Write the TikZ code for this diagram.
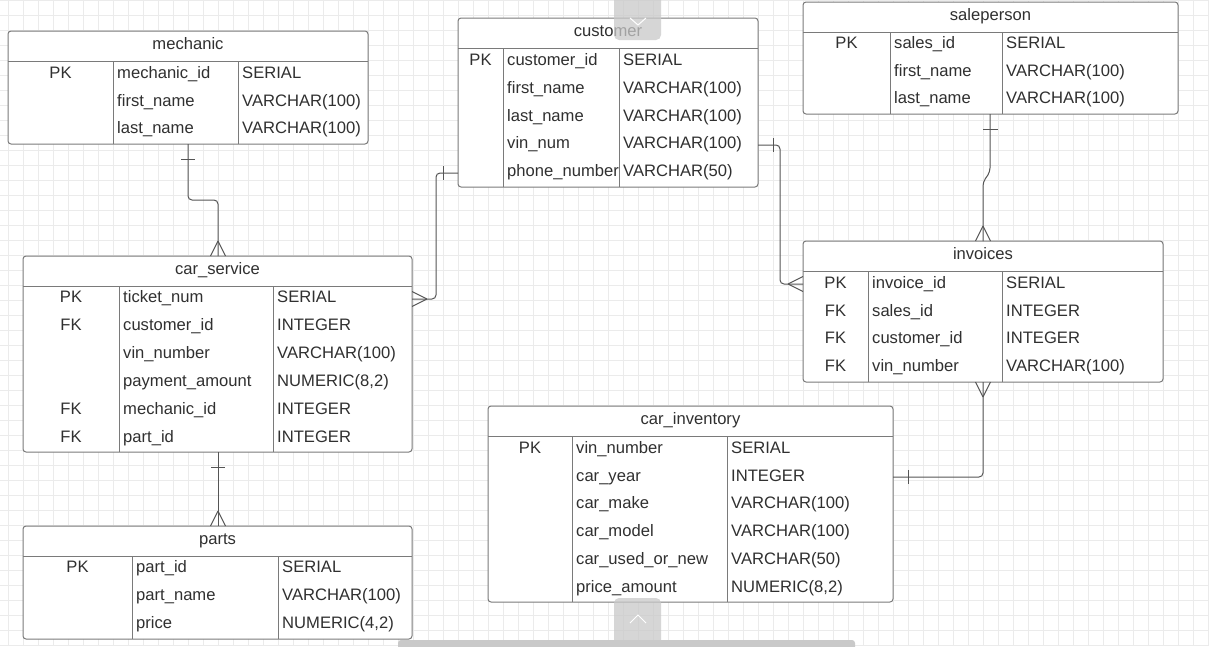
\documentclass[tikz,border=0pt]{standalone}
\usepackage{fontspec}
\setmainfont{Liberation Sans}
\usetikzlibrary{calc}
\definecolor{gridc}{HTML}{EBEBEB}
\definecolor{boxc}{HTML}{7A7A7A}
\definecolor{txtc}{HTML}{303030}
\definecolor{connc}{HTML}{555555}
\definecolor{tabc}{HTML}{C9C9C9}
\tikzset{
  tbl/.style={draw=boxc, line width=1pt, fill=white, rounded corners=3pt, inner sep=0pt, outer sep=0pt, rectangle},
  divl/.style={draw=boxc, line width=1pt},
  txt/.style={text=txtc, inner sep=0pt, font=\fontsize{16.6}{19}\selectfont},
  conn/.style={draw=connc, line width=1pt, rounded corners=4pt},
  crowmark/.style={draw=connc, line width=1pt},
  gridline/.style={draw=gridc, line width=0.8pt},
}
\newcommand\erbox[8]{%
  \pgfmathsetmacro\erw{#4-#2}\pgfmathsetmacro\erh{#5-#3}%
  \node[tbl, minimum width=\erw pt, minimum height=\erh pt, anchor=north west] (#1) at (#2,#3) {};
  \draw[divl] (#2,#3+30) -- (#4,#3+30);
  \draw[divl] (#6,#3+30) -- (#6,#5);
  \draw[divl] (#7,#3+30) -- (#7,#5);
  \node[txt, anchor=base] (#1-title) at ({(#2+#4)/2},#3+18.5) {#8};
}
\newcommand\errow[7]{%
  \node[txt, anchor=base] at (#2,#1+5.5) {#5};
  \node[txt, anchor=base west] at (#3+4,#1+5.5) {#6};
  \node[txt, anchor=base west] at (#4+4,#1+5.5) {#7};
}
\begin{document}
\begin{tikzpicture}[x=1pt,y=-1pt]
\useasboundingbox (0,0) rectangle (1209,646);
\fill[white] (0,0) rectangle (1209,646);
\foreach \gx in {8,23,...,1208} \draw[gridline] (\gx,0) -- (\gx,646);
\foreach \gy in {0,15,...,645} \draw[gridline] (0,\gy) -- (1209,\gy);

% mechanic
\erbox{mechanic}{8}{31}{368}{144}{113}{238}{mechanic}
\errow{73}{60.5}{113}{238}{PK}{mechanic\_id}{SERIAL}
\errow{100.5}{60.5}{113}{238}{}{first\_name}{VARCHAR(100)}
\errow{128}{60.5}{113}{238}{}{last\_name}{VARCHAR(100)}
% customer
\erbox{customer}{458}{18}{758}{187}{503}{619}{customer}
\errow{60}{480.5}{503}{619}{PK}{customer\_id}{SERIAL}
\errow{88}{480.5}{503}{619}{}{first\_name}{VARCHAR(100)}
\errow{116}{480.5}{503}{619}{}{last\_name}{VARCHAR(100)}
\errow{143}{480.5}{503}{619}{}{vin\_num}{VARCHAR(100)}
\errow{171}{480.5}{503}{619}{}{phone\_number}{VARCHAR(50)}
% saleperson
\erbox{saleperson}{803}{2}{1178}{114}{890}{1002}{saleperson}
\errow{43}{846.5}{890}{1002}{PK}{sales\_id}{SERIAL}
\errow{71}{846.5}{890}{1002}{}{first\_name}{VARCHAR(100)}
\errow{98}{846.5}{890}{1002}{}{last\_name}{VARCHAR(100)}
% invoices
\erbox{invoices}{803}{241}{1163}{382}{868}{1002}{invoices}
\errow{283}{835.5}{868}{1002}{PK}{invoice\_id}{SERIAL}
\errow{311}{835.5}{868}{1002}{FK}{sales\_id}{INTEGER}
\errow{338}{835.5}{868}{1002}{FK}{customer\_id}{INTEGER}
\errow{366}{835.5}{868}{1002}{FK}{vin\_number}{VARCHAR(100)}
% car_service
\erbox{carservice}{23}{256}{412}{452}{119}{273}{car\_service}
\errow{297}{71}{119}{273}{PK}{ticket\_num}{SERIAL}
\errow{325}{71}{119}{273}{FK}{customer\_id}{INTEGER}
\errow{353}{71}{119}{273}{}{vin\_number}{VARCHAR(100)}
\errow{381}{71}{119}{273}{}{payment\_amount}{NUMERIC(8,2)}
\errow{409}{71}{119}{273}{FK}{mechanic\_id}{INTEGER}
\errow{437}{71}{119}{273}{FK}{part\_id}{INTEGER}
% parts
\erbox{parts}{23}{526}{412}{639}{132}{278}{parts}
\errow{567}{77.5}{132}{278}{PK}{part\_id}{SERIAL}
\errow{595}{77.5}{132}{278}{}{part\_name}{VARCHAR(100)}
\errow{623}{77.5}{132}{278}{}{price}{NUMERIC(4,2)}
% car_inventory
\erbox{carinv}{488}{406}{893}{602}{572}{727}{car\_inventory}
\errow{448}{530}{572}{727}{PK}{vin\_number}{SERIAL}
\errow{476}{530}{572}{727}{}{car\_year}{INTEGER}
\errow{503}{530}{572}{727}{}{car\_make}{VARCHAR(100)}
\errow{531}{530}{572}{727}{}{car\_model}{VARCHAR(100)}
\errow{559}{530}{572}{727}{}{car\_used\_or\_new}{VARCHAR(50)}
\errow{587}{530}{572}{727}{}{price\_amount}{NUMERIC(8,2)}

% ---- connectors ----
% mechanic -> car_service
\coordinate (a1) at ($(mechanic.south west)+(180,0)$);
\coordinate (a2) at ($(carservice.north west)+(195,0)$);
\draw[conn] (a1) -- ++(0,56) -| (a2);
\draw[crowmark] ($(a1)+(-7,15)$) -- ($(a1)+(7,15)$);
\draw[crowmark] ($(a2)+(0,-15)$) -- ($(a2)+(-7.5,0)$) ($(a2)+(0,-15)$) -- ($(a2)+(7.5,0)$);
% customer -> car_service
\coordinate (b1) at ($(customer.south west)+(0,-14)$);
\coordinate (b2) at ($(carservice.north east)+(0,43)$);
\draw[conn] (b1) -- (436,173) -- (436,299) -- (b2);
\draw[crowmark] ($(b1)+(-15,-7)$) -- ($(b1)+(-15,7)$);
\draw[crowmark] ($(b2)+(15,0)$) -- ($(b2)+(0,-7.5)$) ($(b2)+(15,0)$) -- ($(b2)+(0,7.5)$);
% customer -> invoices
\coordinate (c1) at ($(customer.north east)+(0,127)$);
\coordinate (c2) at ($(invoices.north west)+(0,43)$);
\draw[conn] (c1) -- (780,145) -- (780,284) -- (c2);
\draw[crowmark] ($(c1)+(15,-7)$) -- ($(c1)+(15,7)$);
\draw[crowmark] ($(c2)+(-15,0)$) -- ($(c2)+(0,-7.5)$) ($(c2)+(-15,0)$) -- ($(c2)+(0,7.5)$);
% saleperson -> invoices
\coordinate (d1) at ($(saleperson.south west)+(187,0)$);
\coordinate (d2) at ($(invoices.north west)+(180,0)$);
\draw[conn] (d1) -- (990,172) -- (983,182) -- (d2);
\draw[crowmark] ($(d1)+(-7,15)$) -- ($(d1)+(8,15)$);
\draw[crowmark] ($(d2)+(0,-15)$) -- ($(d2)+(-7.5,0)$) ($(d2)+(0,-15)$) -- ($(d2)+(7.5,0)$);
% invoices -> car_inventory
\coordinate (e1) at ($(invoices.south west)+(180,0)$);
\coordinate (e2) at ($(carinv.north east)+(0,71)$);
\draw[conn] (e1) |- (e2);
\draw[crowmark] ($(e1)+(0,15)$) -- ($(e1)+(-7.5,0)$) ($(e1)+(0,15)$) -- ($(e1)+(7.5,0)$);
\draw[crowmark] ($(e2)+(15,-7)$) -- ($(e2)+(15,7)$);
% car_service -> parts
\coordinate (f1) at ($(carservice.south west)+(195,0)$);
\coordinate (f2) at ($(parts.north west)+(195,0)$);
\draw[conn] (f1) -- (f2);
\draw[crowmark] ($(f1)+(-7,15)$) -- ($(f1)+(7,15)$);
\draw[crowmark] ($(f2)+(0,-15)$) -- ($(f2)+(-7.5,0)$) ($(f2)+(0,-15)$) -- ($(f2)+(7.5,0)$);

% ---- UI overlays ----
\fill[tabc, opacity=0.75, rounded corners=5pt] (614,-10) rectangle (661,40);
\draw[white, line width=1pt] (630,18) -- (638,25) -- (646,18);
\fill[tabc, opacity=0.75, rounded corners=5pt] (614,598) rectangle (661,650);
\draw[white, line width=1pt] (630,623) -- (638,615) -- (646,623);
\fill[tabc, rounded corners=3pt] (398,640) rectangle (855,652);
\end{tikzpicture}
\end{document}
